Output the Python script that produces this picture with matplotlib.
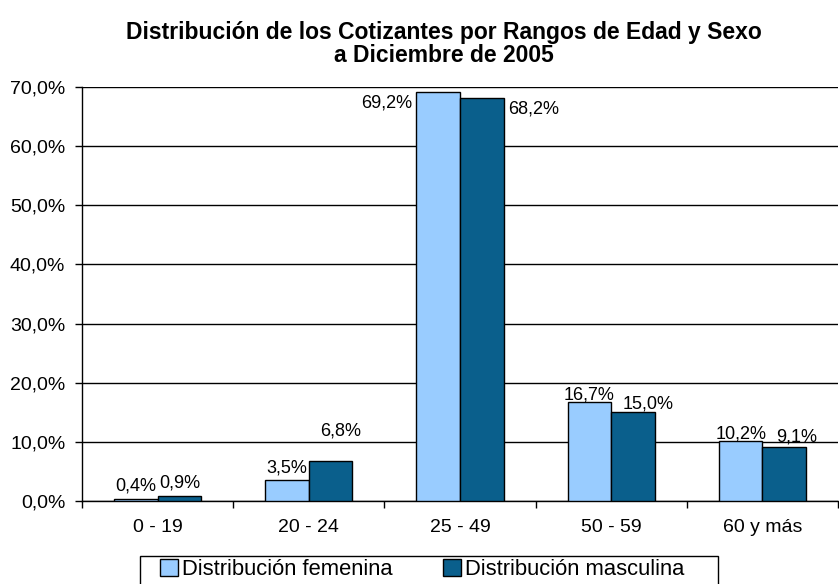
import matplotlib
matplotlib.use("Agg")
import matplotlib.pyplot as plt
import numpy as np
from matplotlib.patches import Patch, Rectangle

categories = ["0 - 19", "20 - 24", "25 - 49", "50 - 59", "60 y más"]
femenina = [0.4, 3.5, 69.2, 16.7, 10.2]
masculina = [0.9, 6.8, 68.2, 15.0, 9.1]
series_names = ["Distribución femenina", "Distribución masculina"]
yticks = [0, 10, 20, 30, 40, 50, 60, 70]

plt.rcParams['font.family'] = ['Liberation Sans', 'DejaVu Sans']

c_fem = "#99CCFF"
c_mas = "#0A5F8C"

fig = plt.figure(figsize=(8.39, 5.84), dpi=100)
ax = fig.add_axes([82/839, 1-501/584, 756/839, (501-87)/584])

x = np.arange(len(categories))
w = 0.288
b1 = ax.bar(x - w/2, femenina, w, color=c_fem, edgecolor="black", linewidth=1, zorder=3)
b2 = ax.bar(x + w/2, masculina, w, color=c_mas, edgecolor="black", linewidth=1, zorder=3)

ax.set_xlim(-0.5, len(categories) - 0.5)
ax.set_ylim(0, 70)
ax.set_yticks(yticks)
ax.set_yticklabels([f"{v:.1f}%".replace(".", ",") for v in yticks])
ax.yaxis.grid(True, color="black", linewidth=1, zorder=0)
ax.set_xticks(x)
ax.set_xticklabels(categories)
ax.set_xticks(np.arange(-0.5, len(categories)), minor=True)
ax.tick_params(axis='x', which='major', length=0, pad=13, labelsize=14)
ax.tick_params(axis='x', which='minor', length=5, width=1, direction='out')
ax.tick_params(axis='y', length=5, width=1, direction='out', pad=7, labelsize=14)
for s in ["top", "right"]:
    ax.spines[s].set_visible(False)
ax.spines["left"].set_linewidth(1)
ax.spines["bottom"].set_linewidth(1)

def fmt(v):
    return f"{v:.1f}%".replace(".", ",")

# label offsets (points)
off_f = [(0, 3), (0, 3), (-3, -8), (0, -1), (0, -1)]
off_m = [(0, 3), (7, 15), (3, -8), (11, 0), (9, 1)]
ha_f = ["center", "center", "right", "center", "center"]
ha_m = ["center", "center", "left", "center", "center"]
for i, r in enumerate(b1):
    xx = r.get_x() if ha_f[i] == "right" else r.get_x() + r.get_width()/2
    ax.annotate(fmt(femenina[i]), (xx, r.get_height()), xytext=off_f[i],
                textcoords="offset points", ha=ha_f[i], va="bottom" if off_f[i][1] >= -1 else "center",
                fontsize=13, zorder=5)
for i, r in enumerate(b2):
    xx = r.get_x() + r.get_width() if ha_m[i] == "left" else r.get_x() + r.get_width()/2
    ax.annotate(fmt(masculina[i]), (xx, r.get_height()), xytext=off_m[i],
                textcoords="offset points", ha=ha_m[i], va="bottom" if off_m[i][1] >= -1 else "center",
                fontsize=13, zorder=5)

fig.text(444/839, 1-32/584, "Distribución de los Cotizantes por Rangos de Edad y Sexo",
         ha="center", va="center", fontsize=16.5, fontweight="bold")
fig.text(444/839, 1-56/584, "a Diciembre de 2005",
         ha="center", va="center", fontsize=16.5, fontweight="bold")

# legend frame
fig.patches.append(Rectangle((140/839, -0.05), (718-140)/839, 0.05 + (584-556)/584,
                             transform=fig.transFigure, facecolor="white",
                             edgecolor="black", linewidth=1, zorder=1))

handles = [Patch(facecolor=c_fem, edgecolor="black", linewidth=1),
           Patch(facecolor=c_mas, edgecolor="black", linewidth=1)]
leg = fig.legend(handles, series_names, loc="upper left", bbox_to_anchor=(160/839, 1-559/584),
                 ncol=2, frameon=False, fontsize=15.8,
                 handlelength=0.8, handleheight=0.8, handletextpad=0.2, columnspacing=2.3,
                 borderpad=0, borderaxespad=0)
leg.set_zorder(2)

fig.savefig("out.png", dpi=100)
